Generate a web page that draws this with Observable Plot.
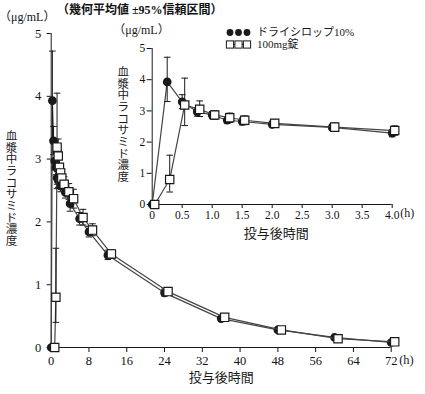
<!DOCTYPE html>
<html><head><meta charset="utf-8">
<script src="https://cdn.jsdelivr.net/npm/d3@7"></script>
<script src="https://cdn.jsdelivr.net/npm/@observablehq/plot@0.6"></script>
<style>
body{margin:0;background:#fff;}
#wrap{position:relative;width:425px;height:394px;font-family:"Liberation Serif","Noto Sans CJK JP",serif;color:#111;}
#wrap svg{position:absolute;overflow:visible;}
.t{position:absolute;white-space:nowrap;font-size:12px;line-height:1;}
</style></head><body>
<div id="wrap">
  <div class="t" id="unit" style="left:-1px;top:11px;">（μg/mL）</div>
  <div class="t" id="title" style="left:57px;top:4px;font-weight:600;">（幾何平均値 ±95%信頼区間）</div>
</div>
<script>
// ---- data ----
const times = [0, 0.25, 0.5, 0.75, 1, 1.25, 1.5, 2, 3, 4, 6, 8, 12, 24, 36, 48, 60, 72];
const syrupMean = [0, 3.93, 3.29, 2.97, 2.87, 2.70, 2.66, 2.57, 2.47, 2.29, 2.05, 1.84, 1.47, 0.87, 0.46, 0.28, 0.16, 0.08];
const syrupLow  = [0, 3.30, 3.07, 2.83, 2.75, 2.60, 2.55, 2.48, 2.38, 2.17, 1.95, 1.76, 1.40, 0.82, 0.42, 0.25, 0.14, 0.07];
const syrupHigh = [0, 4.72, 3.52, 3.10, 2.98, 2.80, 2.77, 2.67, 2.57, 2.40, 2.15, 1.93, 1.55, 0.93, 0.50, 0.31, 0.18, 0.09];
const tabletMean = [0, 0.80, 3.19, 3.05, 2.87, 2.78, 2.70, 2.60, 2.48, 2.37, 2.07, 1.87, 1.49, 0.89, 0.48, 0.28, 0.14, 0.09];
const tabletLow  = [0, 0.40, 2.53, 2.82, 2.73, 2.63, 2.56, 2.48, 2.36, 2.22, 1.95, 1.78, 1.42, 0.83, 0.44, 0.26, 0.13, 0.08];
const tabletHigh = [0, 1.58, 4.05, 3.32, 3.01, 2.93, 2.84, 2.72, 2.61, 2.52, 2.20, 1.97, 1.56, 0.95, 0.52, 0.30, 0.16, 0.10];
const seriesNames = ["ドライシロップ10%", "100mg錠"];
const mainXTicks = [0, 8, 16, 24, 32, 40, 48, 56, 64, 72];
const yTicks = [0, 1, 2, 3, 4, 5];
const insetXTicks = [0, 0.5, 1, 1.5, 2, 2.5, 3, 3.5, 4];
const yLabel = "血漿中ラコサミド濃度";
const xLabel = "投与後時間";

const syrup = times.map((t, i) => ({t, v: syrupMean[i], lo: syrupLow[i], hi: syrupHigh[i]}));
const tablet = times.map((t, i) => ({t, v: tabletMean[i], lo: tabletLow[i], hi: tabletHigh[i]}));

const cap = {draw(ctx, size) { const r = Math.sqrt(size / Math.PI); ctx.moveTo(-r, 0); ctx.lineTo(r, 0); }};
const ink = "#1a1a1a";
const lineInk = "#444";
const font = '"Liberation Serif","Noto Sans CJK JP",serif';

function seriesMarks(sy, tb, sdx) {
  return [
    Plot.line(sy, {x: "t", y: "v", stroke: lineInk, strokeWidth: 1.2}),
    Plot.ruleX(sy, {x: "t", y1: "lo", y2: "hi", stroke: ink, strokeWidth: 1}),
    Plot.dot(sy, {x: "t", y: "hi", symbol: cap, r: 3.3, stroke: ink, strokeWidth: 1}),
    Plot.dot(sy, {x: "t", y: "lo", symbol: cap, r: 3.3, stroke: ink, strokeWidth: 1}),
    Plot.dot(sy, {x: "t", y: "v", r: 3.6, fill: ink, stroke: ink}),
    Plot.line(tb, {x: "t", y: "v", stroke: lineInk, strokeWidth: 1.2, dx: sdx}),
    Plot.ruleX(tb, {x: "t", y1: "lo", y2: "hi", stroke: ink, strokeWidth: 1, dx: sdx}),
    Plot.dot(tb, {x: "t", y: "hi", symbol: cap, r: 3.3, stroke: ink, strokeWidth: 1, dx: sdx}),
    Plot.dot(tb, {x: "t", y: "lo", symbol: cap, r: 3.3, stroke: ink, strokeWidth: 1, dx: sdx}),
    Plot.dot(tb, {x: "t", y: "v", symbol: "square", r: 4.7, fill: "white", stroke: ink, strokeWidth: 1.2, dx: sdx})
  ];
}

// vertical (upright, stacked) label: one text per character
function verticalLabel(svg, cx, cy0, pitch) {
  const g = d3.select(svg).append("g").attr("font-family", font).attr("font-size", 11.5)
    .attr("fill", ink).attr("text-anchor", "middle");
  yLabel.split("").forEach((ch, i) => g.append("text").attr("x", cx).attr("y", cy0 + i * pitch).attr("dy", "0.36em").text(ch));
}

const main = Plot.plot({
  width: 425, height: 394,
  marginLeft: 50.7, marginRight: 34.3, marginTop: 33, marginBottom: 47,
  style: {fontFamily: font, fontSize: "12.5px", color: "#111", background: "transparent"},
  x: {domain: [0, 72], ticks: mainXTicks, tickSize: 5, tickPadding: 4, label: null, tickFormat: d3.format("d")},
  y: {domain: [0, 5], ticks: yTicks, tickSize: 4, tickPadding: 6, label: null, tickFormat: d3.format("d")},
  marks: [
    Plot.ruleX([0], {stroke: ink}),
    Plot.ruleY([0], {stroke: ink}),
    ...seriesMarks(syrup, tablet, 3.5),
    Plot.text([xLabel], {frameAnchor: "bottom", dy: 34, fontSize: 13, fill: ink}),
    Plot.text(["(h)"], {frameAnchor: "bottom-right", dx: 8, dy: 16, textAnchor: "start", fontSize: 12.5, fill: ink, style: "letter-spacing:1.5px"})
  ]
});
main.style.left = "0px"; main.style.top = "0px";
document.getElementById("wrap").appendChild(main);
verticalLabel(main, 11.5, 135.7, 11.7);

const sy4 = syrup.filter(d => d.t <= 4), tb4 = tablet.filter(d => d.t <= 4);
const inset = Plot.plot({
  width: 315, height: 230,
  marginLeft: 41.7, marginRight: 33.3, marginTop: 28, marginBottom: 46,
  style: {fontFamily: font, fontSize: "11.5px", color: "#111", background: "transparent"},
  x: {domain: [0, 4], ticks: insetXTicks, tickSize: 4, tickPadding: 2, label: null,
      tickFormat: d => d === 0 ? "0" : d.toFixed(1)},
  y: {domain: [0, 5], ticks: yTicks, tickSize: 5, tickPadding: 2, label: null, tickFormat: d3.format("d")},
  marks: [
    Plot.ruleX([0], {stroke: ink}),
    Plot.ruleY([0], {stroke: ink}),
    ...seriesMarks(sy4, tb4, 2.5),
    Plot.text([xLabel], {frameAnchor: "bottom", dy: 33, dx: 4, fontSize: 13, fill: ink}),
    Plot.text(["(h)"], {frameAnchor: "bottom-right", dx: 8, dy: 12, textAnchor: "start", fontSize: 12, fill: ink}),
    Plot.text(["（μg/mL）"], {frameAnchor: "top-left", dx: -39, dy: -18, lineAnchor: "middle", textAnchor: "start", fontSize: 12, fill: ink})
  ]
});
inset.style.left = "110px"; inset.style.top = "20px";
document.getElementById("wrap").appendChild(inset);
verticalLabel(inset, 13.3, 51.7, 11.67);

// legend
const lg = d3.select(inset).append("g").attr("font-family", font).attr("font-size", 11).attr("fill", ink).attr("text-anchor", "start");
const lx = 120, ly1 = 12.5, ly2 = 24.5;
[0, 1, 2].forEach(i => lg.append("circle").attr("cx", lx + i * 8.5).attr("cy", ly1).attr("r", 3.4).attr("fill", ink));
lg.append("line").attr("x1", lx).attr("x2", lx + 17).attr("y1", ly2).attr("y2", ly2).attr("stroke", ink);
[0, 1, 2].forEach(i => lg.append("rect").attr("x", lx + i * 8.5 - 3.6).attr("y", ly2 - 3.6).attr("width", 7.2).attr("height", 7.2).attr("fill", "white").attr("stroke", ink).attr("stroke-width", 1));
lg.append("text").attr("x", lx + 27).attr("y", ly1).attr("dy", "0.35em").text(seriesNames[0]);
lg.append("text").attr("x", lx + 27).attr("y", ly2).attr("dy", "0.35em").text(seriesNames[1]);
</script>
</body></html>
